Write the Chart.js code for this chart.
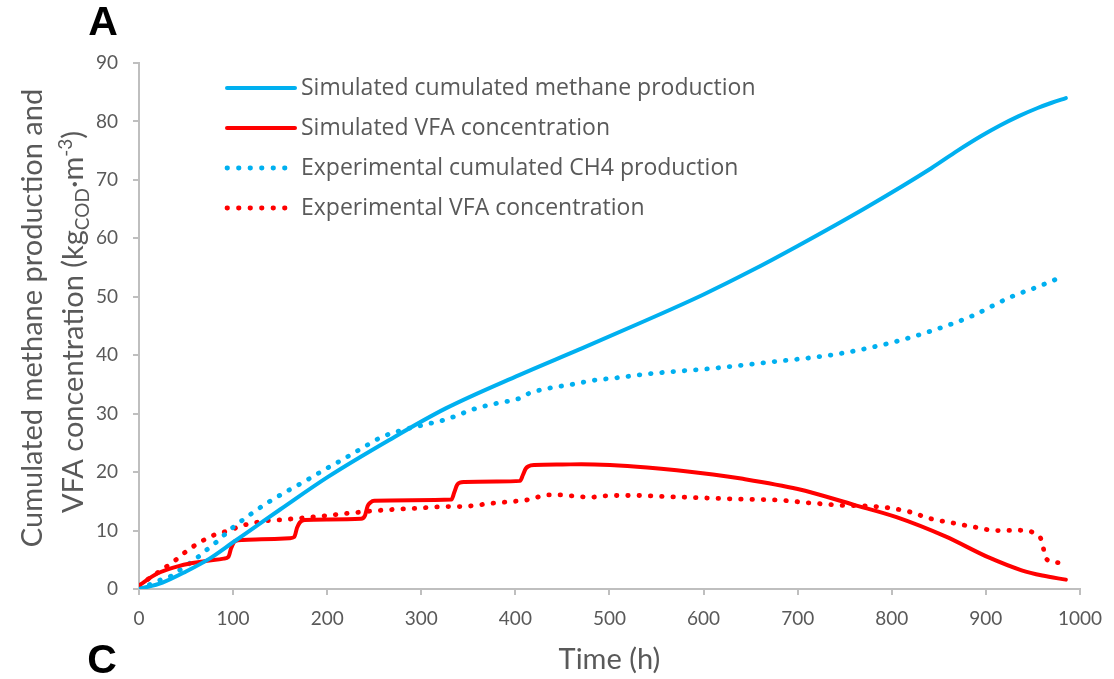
<!DOCTYPE html>
<html>
<head>
<meta charset="utf-8">
<title>Cumulated methane and VFA</title>
<script src="https://cdn.jsdelivr.net/npm/chart.js@4.4.1/dist/chart.umd.min.js"></script>
<style>
body { margin: 0; background: #fff; }
#wrap { width: 1114px; height: 679px; }
</style>
</head>
<body>
<div id="wrap"><canvas id="plot" width="1114" height="679"></canvas></div>
<script>
// (time in h, values in kgCOD.m-3)
var simCH4Time = [0, 25, 50, 75, 100, 125, 150, 200, 266, 326, 404, 468, 538, 600, 650, 700, 772, 842, 870, 895, 915, 935, 955, 970, 985];
var simCH4 = [0, 1.1, 3.0, 5.2, 8.0, 10.8, 13.6, 19.1, 25.5, 30.9, 36.6, 41.0, 45.9, 50.4, 54.4, 58.7, 65.2, 72.0, 75.0, 77.5, 79.3, 80.9, 82.3, 83.2, 84.0];

var simVFATime = [0, 19, 44, 68, 90, 95, 98, 102, 110, 130, 160, 165, 168, 171, 176, 200, 236, 240, 243, 246, 250, 290, 332, 335, 338, 341, 346, 380, 405, 408, 411, 414, 420, 450, 470, 540, 610, 640, 700, 760, 805, 857, 903, 938, 960, 985];
var simVFA = [0.6, 2.6, 4.0, 4.7, 5.2, 5.5, 7.0, 8.2, 8.4, 8.5, 8.7, 8.9, 10.5, 11.4, 11.8, 11.9, 12.0, 12.5, 14.2, 14.8, 15.1, 15.2, 15.3, 16.5, 17.8, 18.2, 18.3, 18.4, 18.5, 19.5, 20.6, 21.0, 21.2, 21.3, 21.35, 20.8, 19.6, 18.9, 17.1, 14.4, 12.3, 9.0, 5.4, 3.2, 2.3, 1.6];

var expCH4Time = [0, 13, 22, 34, 43, 53, 63, 72, 82, 98, 117, 136, 157, 177, 197, 217, 238, 258, 280, 303, 326, 358, 381, 404, 415, 437, 460, 483, 506, 530, 553, 576, 600, 669, 738, 796, 841, 885, 927, 955, 982];
var expCH4 = [0, 0.85, 1.5, 2.2, 3.2, 4.3, 5.5, 6.7, 8.0, 10.3, 12.6, 14.7, 16.7, 18.5, 20.4, 22.2, 24.2, 26.0, 27.2, 28.1, 29.0, 30.9, 31.8, 32.6, 33.5, 34.4, 35.0, 35.7, 36.1, 36.6, 37.0, 37.3, 37.6, 38.8, 40.1, 42.0, 44.1, 46.7, 50.0, 51.7, 53.5];

var expVFATime = [0, 8, 18, 27, 37, 46, 56, 66, 76, 87, 98, 108, 120, 131, 155, 190, 225, 259, 294, 329, 341, 377, 399, 411, 423, 434, 445, 469, 480, 492, 504, 528, 563, 598, 634, 680, 715, 750, 773, 796, 819, 842, 865, 888, 911, 934, 957, 961, 963, 973, 984];
var expVFA = [0.5, 1.5, 2.6, 3.6, 4.7, 5.9, 7.1, 8.1, 9.0, 9.6, 10.1, 10.8, 11.2, 11.6, 11.9, 12.4, 13.0, 13.5, 13.8, 14.1, 14.1, 14.7, 15.0, 15.2, 15.7, 16.1, 16.1, 15.8, 15.7, 15.9, 16.0, 16.0, 15.8, 15.6, 15.4, 15.2, 14.7, 14.3, 14.2, 13.9, 13.2, 12.0, 11.3, 10.6, 10.0, 10.05, 9.0, 7.1, 5.4, 4.6, 4.3];

var seriesNames = ["Simulated cumulated methane production", "Simulated VFA concentration",
                   "Experimental cumulated CH4 production", "Experimental VFA concentration"];
var xTitle = "Time (h)";
var yTitleLine1 = "Cumulated methane production and";

var BLUE = "#00B0F0", RED = "#FF0000", GREY = "#595959", AXIS = "#BFBFBF";
var DOTS = [0.5, 10.8];

function pairs(xs, ys) {
  return xs.map(function(x, i) { return { x: x, y: ys[i] }; });
}

function lineSet(label, xs, ys, color, dash) {
  return {
    label: label,
    data: pairs(xs, ys),
    borderColor: color,
    backgroundColor: color,
    borderWidth: dash ? 4.8 : 4,
    borderDash: dash || [],
    borderCapStyle: "round",
    cubicInterpolationMode: "monotone",
    pointRadius: 0,
    fill: false
  };
}

// legend, y title (with sub/superscript) and panel letters
var extras = {
  id: "extras",
  afterDraw: function(chart) {
    var ctx = chart.ctx;
    ctx.save();

    // legend
    chart.data.datasets.forEach(function(ds, i) {
      var y = 88 + i * 40;
      ctx.strokeStyle = ds.borderColor;
      ctx.lineWidth = ds.borderWidth;
      ctx.lineCap = "round";
      ctx.setLineDash(ds.borderDash.length ? [0.5, 11] : []);
      ctx.beginPath();
      ctx.moveTo(227, y);
      ctx.lineTo(295, y);
      ctx.stroke();
      ctx.setLineDash([]);
      ctx.fillStyle = GREY;
      ctx.font = '23px "Open Sans"';
      ctx.textAlign = "left";
      ctx.textBaseline = "middle";
      ctx.fillText(ds.label, 301, y);
    });

    // y axis title, two lines rotated
    var size = 29;
    ctx.fillStyle = GREY;
    ctx.textBaseline = "alphabetic";
    ctx.save();
    ctx.translate(42, 318);
    ctx.rotate(-Math.PI / 2);
    ctx.font = size + "px Lato";
    ctx.textAlign = "center";
    ctx.fillText(yTitleLine1, 0, 0);
    ctx.restore();

    var parts = [
      { t: "VFA concentration (kg", s: 0 },
      { t: "COD", s: -1 },
      { t: "\u00B7m", s: 0 },
      { t: "-3", s: 1 },
      { t: ")", s: 0 }
    ];
    var small = Math.round(size * 0.64);
    var total = 0;
    parts.forEach(function(p) {
      ctx.font = (p.s ? small : size) + "px Lato";
      p.w = ctx.measureText(p.t).width;
      total += p.w;
    });
    ctx.save();
    ctx.translate(83, 322);
    ctx.rotate(-Math.PI / 2);
    ctx.textAlign = "left";
    var cx = -total / 2;
    parts.forEach(function(p) {
      ctx.font = (p.s ? small : size) + "px Lato";
      var dy = p.s < 0 ? size * 0.2 : (p.s > 0 ? -size * 0.38 : 0);
      ctx.fillText(p.t, cx, dy);
      cx += p.w;
    });
    ctx.restore();

    // panel letters
    ctx.fillStyle = "#000";
    ctx.font = 'bold 41px "Liberation Sans"';
    ctx.textAlign = "center";
    ctx.textBaseline = "middle";
    ctx.fillText("A", 103, 24);
    ctx.fillText("C", 102, 662);

    ctx.restore();
  }
};

var ctx = document.getElementById("plot");
var myChart = new Chart(ctx, {
  type: "line",
  data: {
    datasets: [
      lineSet(seriesNames[0], simCH4Time, simCH4, BLUE),
      lineSet(seriesNames[1], simVFATime, simVFA, RED),
      lineSet(seriesNames[2], expCH4Time, expCH4, BLUE, DOTS),
      lineSet(seriesNames[3], expVFATime, expVFA, RED, DOTS)
    ]
  },
  options: {
    responsive: false,
    animation: false,
    layout: { padding: { top: 63, right: 32, left: 0, bottom: 0 } },
    plugins: {
      legend: { display: false },
      tooltip: { enabled: false }
    },
    scales: {
      x: {
        type: "linear",
        min: 0,
        max: 1000,
        afterFit: function(s) { s.height = 90; },
        ticks: {
          stepSize: 100, color: GREY, font: { family: "Lato", size: 19 }, padding: 12, maxRotation: 0,
          callback: function(v) { return String(v); }
        },
        grid: { drawOnChartArea: false, drawTicks: true, tickLength: 6, color: AXIS, lineWidth: 2 },
        border: { color: AXIS, width: 2 },
        title: { display: true, text: xTitle, color: GREY, font: { family: "Lato", size: 29 }, padding: { top: 0, bottom: 2 } }
      },
      y: {
        min: 0,
        max: 90,
        afterFit: function(s) { s.width = 139; },
        ticks: { stepSize: 10, color: GREY, font: { family: "Lato", size: 19 }, padding: 15 },
        grid: { drawOnChartArea: false, drawTicks: true, tickLength: 6, color: AXIS, lineWidth: 2 },
        border: { color: AXIS, width: 2 }
      }
    }
  },
  plugins: [extras]
});
</script>
</body>
</html>
